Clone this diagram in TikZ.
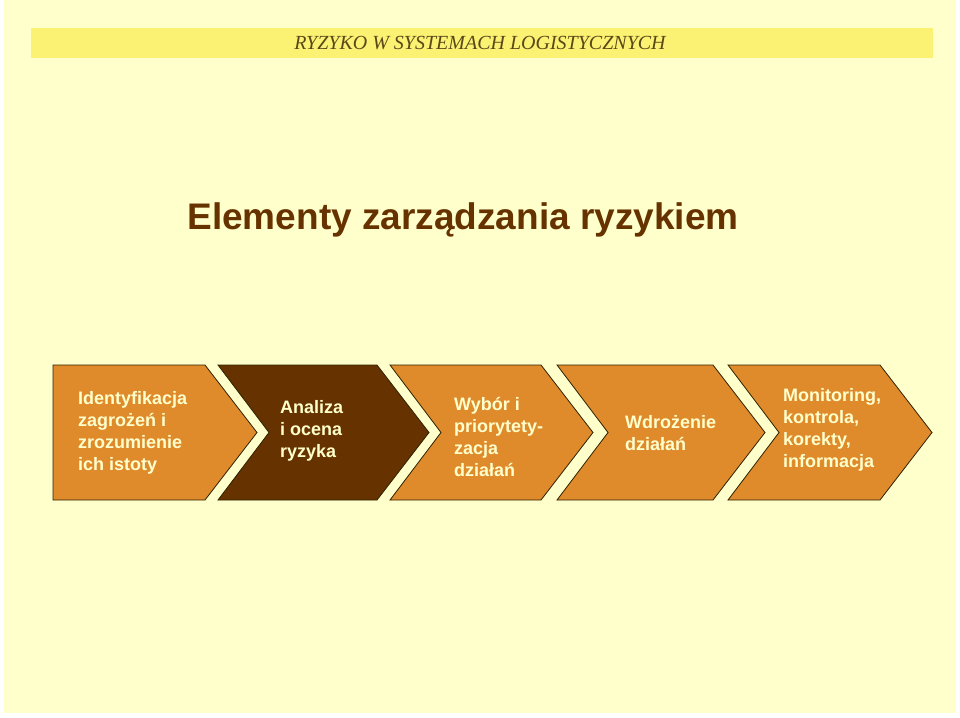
\documentclass[tikz,border=0pt]{standalone}
\usepackage{fontspec}
\setmainfont{Liberation Sans}
\newfontfamily\headfont{Liberation Serif}
\definecolor{pagebg}{HTML}{FFFFCC}
\definecolor{headbar}{HTML}{FBF173}
\definecolor{headtext}{HTML}{5A4818}
\definecolor{titlebrown}{HTML}{663300}
\definecolor{chevorange}{HTML}{DF8A2B}
\definecolor{chevbrown}{HTML}{663300}
\definecolor{chevline}{HTML}{2E2200}
\begin{document}
\begin{tikzpicture}[x=1pt,y=-1pt,
  steptext/.style={anchor=base west,align=left,inner sep=0pt,text=pagebg,
    font=\fontsize{18}{22}\selectfont\bfseries}]
  \useasboundingbox (0,0) rectangle (960,717);
  \fill[white] (0,0) rectangle (960,717);
  \fill[pagebg] (4,0) rectangle (956,713);
  % header
  \fill[headbar] (31,28) rectangle (933,58);
  \node[font=\headfont\itshape\fontsize{20}{24}\selectfont,text=headtext,anchor=base] (head) at (480,49) {RYZYKO W SYSTEMACH LOGISTYCZNYCH};
  % title
  \node[font=\fontsize{37}{44}\selectfont\bfseries,text=titlebrown,anchor=base] (title) at (463,229) {Elementy zarządzania ryzykiem};
  % chevrons: left, top right, colour, notch
  \foreach \l/\r/\c/\n in {53/205/chevorange/0, 218/377/chevbrown/51, 390/541/chevorange/51, 557/713/chevorange/51, 728/880/chevorange/51}
    \draw[chevline,fill=\c,line width=0.8pt,line join=miter]
      (\l,365) -- (\r,365) -- (\r+52,432.5) -- (\r,500) -- (\l,500) -- (\l+\n,432.5) -- cycle;
  % texts (placed at the baseline of the last line)
  \node[steptext] (ident) at (78,470) {Identyfikacja\\zagrożeń i\\zrozumienie\\ich istoty};
  \node[steptext] (analiza) at (280,457) {Analiza\\i ocena\\ryzyka};
  \node[steptext] (wybor) at (454,476) {Wybór i\\priorytety-\\zacja\\działań};
  \node[steptext] (wdroz) at (625,450) {Wdrożenie\\działań};
  \node[steptext] (monit) at (783,467) {Monitoring,\\kontrola,\\korekty,\\informacja};
\end{tikzpicture}
\end{document}
